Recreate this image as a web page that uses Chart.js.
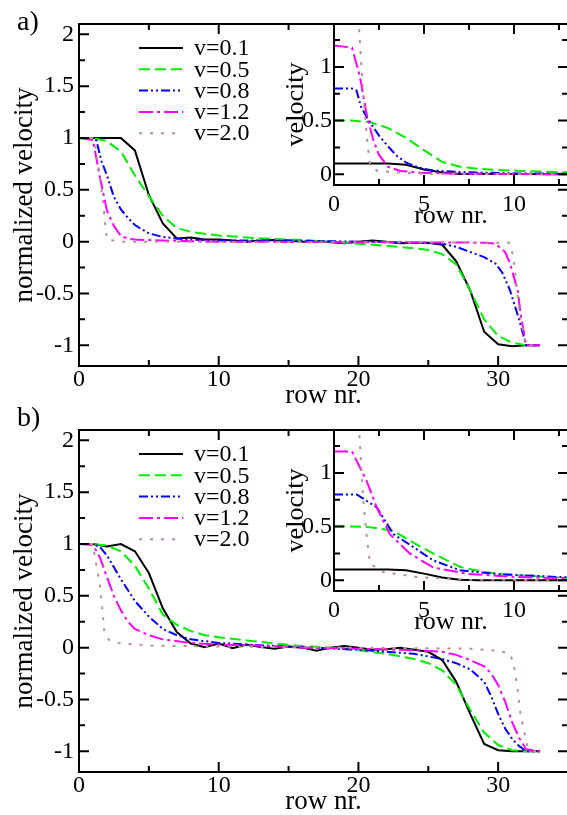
<!DOCTYPE html>
<html>
<head>
<meta charset="utf-8">
<script src="https://cdn.jsdelivr.net/npm/chart.js@4.4.1/dist/chart.umd.min.js"></script>
<style>
  html, body { margin: 0; padding: 0; background: #fff; }
  body { width: 567px; height: 815px; overflow: hidden; position: relative; }
  canvas { position: absolute; }
</style>
</head>
<body>
<canvas id="mainA" width="580" height="415" style="left:0;top:0"></canvas>
<canvas id="mainB" width="580" height="415" style="left:0;top:406px"></canvas>
<canvas id="insetA" width="300" height="230" style="left:280px;top:0"></canvas>
<canvas id="insetB" width="300" height="230" style="left:280px;top:406px"></canvas>
<script>
// series labels and styles
var seriesLabels = ['v=0.1', 'v=0.5', 'v=0.8', 'v=1.2', 'v=2.0'];
var seriesColors = ['#000000', '#00f000', '#0000ff', '#ff00ff', '#bc8f8f'];
var seriesDash = [[], [11, 5], [9, 3, 2, 3, 2, 3], [14, 4, 3, 4], [3, 8]];

// ticks
var mainXMajor = [0, 10, 20, 30];
var mainXMinor = [5, 15, 25, 35];
var mainYMajor = [-1, -0.5, 0, 0.5, 1, 1.5, 2];
var mainYMinor = [-0.75, -0.25, 0.25, 0.75, 1.25, 1.75];
var insetXMajor = [0, 5, 10];
var insetXMinor = [2.5, 7.5, 12.5];
var insetYMajor = [0, 0.5, 1];
var insetYMinor = [0.25, 0.75, 1.25];

// panel a) normalized velocity vs row nr.
var aMain01 = [[0,1],[1,1],[2,1],[3,1],[4,0.88],[5,0.45],[6,0.175],[7,0.03],[8,0.04],[9,0.02],[10,0.02],[11,0.01],[12,0],[13,0.01],[14,0.015],[15,0.01],[16,0],[17,0.005],[18,-0.005],[19,-0.015],[20,0],[21,0.01],[22,0],[23,-0.015],[24,-0.01],[25,-0.01],[26,-0.03],[27,-0.19],[28,-0.47],[29,-0.87],[30,-0.99],[31,-1.01],[32,-1],[33,-1]];
var aMain05 = [[0,1],[1,1],[2,0.97],[3,0.87],[4,0.64],[5,0.44],[6,0.25],[7,0.13],[8,0.095],[9,0.075],[10,0.06],[12,0.04],[14,0.025],[16,0.015],[18,0],[20,-0.02],[22,-0.04],[24,-0.065],[25,-0.08],[26,-0.12],[27,-0.22],[28,-0.47],[29,-0.75],[30,-0.91],[31,-0.975],[32,-1],[33,-1]];
var aMain08 = [[0,1],[1,1],[1.25,0.975],[1.6,0.78],[2,0.64],[2.5,0.43],[3,0.31],[3.5,0.23],[4,0.16],[5,0.08],[6,0.045],[7,0.03],[8,0.02],[10,0.01],[15,0.01],[20,0],[24,-0.01],[26,-0.02],[27,-0.05],[28,-0.1],[29,-0.15],[29.8,-0.21],[30.3,-0.3],[30.85,-0.47],[31.5,-0.75],[31.9,-0.95],[32,-1],[33,-1]];
var aMain12 = [[0,1],[1,0.98],[1.5,0.62],[2,0.3],[2.5,0.15],[3,0.055],[3.5,0.03],[4,0.02],[6,0.01],[10,0],[29,-0.01],[29.8,-0.02],[30.5,-0.1],[30.85,-0.21],[31.4,-0.47],[31.6,-0.69],[32,-1],[33,-1]];
var aMain20 = [[0,1],[1,1],[1.2,0.9],[1.5,0.6],[1.7,0.42],[1.85,0.2],[2,0.02],[2.5,0.01],[3,0],[30.8,-0.01],[31.1,-0.15],[31.35,-0.47],[31.6,-0.75],[32,-1],[33,-1]];

// panel a) inset: velocity vs row nr.
var aInset01 = [[0,0.1],[1,0.1],[2,0.1],[3,0.1],[4,0.088],[5,0.045],[6,0.0175],[7,0.003],[8,0.004],[9,0.002],[10,0.002],[13,0]];
var aInset05 = [[0,0.5],[1,0.5],[2,0.485],[2.5,0.46],[3,0.43],[4,0.34],[5,0.225],[6,0.115],[7,0.07],[8,0.05],[9,0.042],[10,0.033],[12,0.022],[13,0.018]];
var aInset08 = [[0,0.8],[1,0.8],[1.25,0.78],[1.5,0.63],[1.9,0.51],[2.5,0.36],[3,0.26],[3.5,0.17],[4,0.11],[4.5,0.075],[5,0.05],[5.5,0.035],[6,0.03],[7,0.02],[10,0.008],[13,0.005]];
var aInset12 = [[0,1.2],[1,1.18],[1.44,0.91],[1.8,0.57],[2.18,0.32],[2.5,0.18],[3,0.07],[3.7,0.03],[4.8,0.015],[7,0.005],[13,0]];
var aInset20 = [[0,2],[1,2],[1.3,1.6],[1.45,1.2],[1.6,0.8],[1.75,0.5],[1.85,0.3],[2,0.1],[2.4,0.03],[3.7,0.015],[5,0.005],[13,0]];

// panel b) normalized velocity vs row nr.
var bMain01 = [[0,1],[1,1],[2,0.975],[3,1],[4,0.93],[5,0.72],[6,0.38],[7,0.15],[8,0.04],[9,0.005],[10,0.04],[11,-0.005],[12,0.03],[13,0.005],[14,-0.01],[15,0.01],[16,0],[17,-0.03],[18,0],[19,0.015],[20,0],[21,-0.02],[22,-0.015],[23,0],[24,-0.02],[25,-0.04],[26,-0.12],[27,-0.33],[28,-0.64],[29,-0.93],[30,-0.99],[31,-1],[32,-1],[33,-1]];
var bMain05 = [[0,1],[1,1],[2,0.985],[3,0.93],[4,0.79],[5,0.57],[6,0.32],[7,0.22],[8,0.16],[9,0.12],[10,0.1],[12,0.07],[14,0.04],[16,0.015],[18,0],[20,-0.025],[22,-0.06],[24,-0.11],[25,-0.15],[26,-0.22],[27,-0.36],[28,-0.6],[29,-0.82],[30,-0.94],[31,-0.99],[32,-1],[33,-1]];
var bMain08 = [[0,1],[1,1],[1.5,0.97],[2,0.89],[3,0.66],[4,0.45],[5,0.3],[6,0.18],[7,0.12],[8,0.08],[10,0.045],[12,0.03],[15,0.01],[20,-0.02],[24,-0.06],[26,-0.11],[27,-0.15],[28,-0.21],[29,-0.33],[29.5,-0.47],[30,-0.64],[30.5,-0.78],[31,-0.88],[31.5,-0.95],[32,-1],[33,-1]];
var bMain12 = [[0,1],[1,0.99],[1.5,0.87],[2,0.68],[2.5,0.5],[3,0.36],[3.5,0.25],[4,0.18],[5,0.12],[6,0.08],[8,0.045],[10,0.03],[12,0.025],[16,0],[20,-0.01],[24,-0.025],[26,-0.04],[27,-0.07],[28,-0.12],[29,-0.18],[29.5,-0.25],[30,-0.36],[30.5,-0.52],[31,-0.72],[31.5,-0.87],[32,-0.98],[33,-1]];
var bMain20 = [[0,1],[1,1],[1.15,0.87],[1.5,0.6],[1.65,0.4],[1.8,0.17],[2,0.1],[2.2,0.07],[3,0.04],[5,0.02],[10,0.01],[20,0],[28,-0.01],[30,-0.03],[30.85,-0.06],[31.1,-0.155],[31.35,-0.35],[31.6,-0.64],[31.9,-0.83],[32.1,-0.96],[32.5,-1],[33,-1]];

// panel b) inset: velocity vs row nr.
var bInset01 = [[0,0.1],[1,0.1],[2,0.1],[3,0.1],[4,0.093],[5,0.062],[6,0.025],[7,0.005],[8,0],[13,0]];
var bInset05 = [[0,0.5],[1,0.5],[2,0.495],[3.3,0.46],[4.2,0.37],[5.5,0.25],[7,0.125],[8.3,0.077],[10.15,0.046],[12.55,0.025],[13,0.023]];
var bInset08 = [[0,0.8],[1.26,0.8],[2.37,0.68],[3.3,0.43],[4.4,0.31],[5.5,0.186],[7,0.093],[9.2,0.056],[12.55,0.03],[13,0.028]];
var bInset12 = [[0,1.2],[1,1.2],[1.8,0.93],[2.37,0.68],[3.1,0.43],[4.2,0.25],[5.5,0.12],[7.4,0.06],[10.15,0.03],[12.55,0.02],[13,0.02]];
var bInset20 = [[0,2],[1,2],[1.3,1.6],[1.39,1.4],[1.63,0.74],[1.8,0.43],[2,0.155],[2.74,0.077],[4.6,0.03],[7.4,0.006],[13,0]];

var FONT = '"Liberation Serif", "Times New Roman", serif';

// white box, frame and inward ticks on all four sides
var framePlugin = {
  id: 'frame',
  beforeDraw: function(chart, args, o) {
    if (!o.fill) return;
    var a = chart.chartArea, ctx = chart.ctx;
    ctx.save();
    ctx.fillStyle = '#fff';
    ctx.fillRect(a.left, a.top, a.right - a.left, a.bottom - a.top);
    ctx.restore();
  },
  afterDatasetsDraw: function(chart, args, o) {
    var a = chart.chartArea, ctx = chart.ctx;
    var xs = chart.scales.x, ys = chart.scales.y;
    ctx.save();
    ctx.strokeStyle = '#000';
    ctx.lineWidth = 2;
    ctx.strokeRect(a.left, a.top, a.right - a.left, a.bottom - a.top);
    ctx.beginPath();
    function xt(list, len) {
      list.forEach(function(v) {
        var p = xs.getPixelForValue(v);
        ctx.moveTo(p, a.bottom); ctx.lineTo(p, a.bottom - len);
        ctx.moveTo(p, a.top); ctx.lineTo(p, a.top + len);
      });
    }
    function yt(list, len) {
      list.forEach(function(v) {
        var p = ys.getPixelForValue(v);
        ctx.moveTo(a.left, p); ctx.lineTo(a.left + len, p);
        ctx.moveTo(a.right, p); ctx.lineTo(a.right - len, p);
      });
    }
    xt(o.xMajor, 10); xt(o.xMinor, 6);
    yt(o.yMajor, 10); yt(o.yMinor, 6);
    ctx.stroke();
    ctx.restore();
  }
};

// legend inside plot, and panel letter
var keyPlugin = {
  id: 'key',
  afterDraw: function(chart, args, o) {
    if (!o.show) return;
    var ctx = chart.ctx;
    ctx.save();
    chart.data.datasets.forEach(function(ds, i) {
      var y = o.y + i * o.dy;
      ctx.strokeStyle = ds.borderColor;
      ctx.lineWidth = ds.borderWidth;
      ctx.setLineDash(ds.borderDash);
      ctx.beginPath();
      ctx.moveTo(o.x0, y);
      ctx.lineTo(o.x1, y);
      ctx.stroke();
      ctx.setLineDash([]);
      ctx.fillStyle = '#000';
      ctx.font = '24px ' + FONT;
      ctx.textBaseline = 'middle';
      ctx.fillText(ds.label, o.tx, y + 1);
    });
    ctx.font = '28px ' + FONT;
    ctx.textBaseline = 'alphabetic';
    ctx.fillText(o.panel, o.px, o.py);
    ctx.restore();
  }
};

function buildDatasets(list) {
  return list.map(function(pts, i) {
    return {
      label: seriesLabels[i],
      data: pts.map(function(p) { return {x: p[0], y: p[1]}; }),
      borderColor: seriesColors[i],
      borderDash: seriesDash[i],
      borderWidth: 2,
      pointRadius: 0,
      fill: false,
      tension: 0,
      order: list.length - i
    };
  });
}

function makeChart(id, list, cfg) {
  return new Chart(document.getElementById(id), {
    type: 'line',
    data: { datasets: buildDatasets(list) },
    plugins: [framePlugin, keyPlugin],
    options: {
      responsive: false,
      animation: false,
      events: [],
      layout: { padding: { top: 24, right: 12, left: 0, bottom: 0 } },
      scales: {
        x: {
          type: 'linear', min: cfg.xMin, max: cfg.xMax,
          afterBuildTicks: function(s) { s.ticks = cfg.xMajor.map(function(v) { return {value: v}; }); },
          afterFit: function(s) { s.height = cfg.xH; },
          grid: { display: false, drawTicks: false },
          border: { display: false },
          ticks: { color: '#000', font: { family: FONT, size: 24, lineHeight: 1 }, padding: cfg.xPad, maxRotation: 0, autoSkip: false,
                   callback: function(v) { return String(v); } },
          title: { display: true, text: 'row nr.', color: '#000', font: { family: FONT, size: cfg.titleSize, lineHeight: 1 },
                   padding: { top: 0, bottom: cfg.xTitlePad } }
        },
        y: {
          type: 'linear', min: cfg.yMin, max: cfg.yMax,
          afterBuildTicks: function(s) { s.ticks = cfg.yMajor.map(function(v) { return {value: v}; }); },
          afterFit: function(s) { s.width = cfg.yW; },
          grid: { display: false, drawTicks: false },
          border: { display: false },
          ticks: { color: '#000', font: { family: FONT, size: 24, lineHeight: 1 }, padding: cfg.yPad, autoSkip: false,
                   callback: function(v) { return String(v); } },
          title: { display: true, text: cfg.yTitle, color: '#000', font: { family: FONT, size: cfg.titleSize, lineHeight: 1 },
                   padding: { top: cfg.yTitlePad, bottom: 0 } }
        }
      },
      plugins: {
        legend: { display: false },
        tooltip: { enabled: false },
        frame: { fill: cfg.fill, xMajor: cfg.xMajor, xMinor: cfg.xMinor, yMajor: cfg.yMajor, yMinor: cfg.yMinor },
        key: cfg.key
      }
    }
  });
}

var mainCfg = function(panel, py) {
  return {
    xMin: 0, xMax: 35, yMin: -1.2, yMax: 2.1,
    xMajor: mainXMajor, xMinor: mainXMinor, yMajor: mainYMajor, yMinor: mainYMinor,
    xH: 49, yW: 79, xPad: 2, yPad: 5, xTitlePad: 6, yTitlePad: 11, titleSize: 27,
    yTitle: 'normalized velocity', fill: false,
    key: { show: true, x0: 139, x1: 183, tx: 194, y: 48, dy: 21.3, panel: panel, px: 17, py: py }
  };
};
var insetCfg = function() {
  return {
    xMin: 0, xMax: 13, yMin: -0.1, yMax: 1.4,
    xMajor: insetXMajor, xMinor: insetXMinor, yMajor: insetYMajor, yMinor: insetYMinor,
    xH: 45, yW: 54, xPad: 8, yPad: 2, xTitlePad: 1, yTitlePad: 3, titleSize: 26,
    yTitle: 'velocity', fill: true,
    key: { show: false }
  };
};

makeChart('mainA', [aMain01, aMain05, aMain08, aMain12, aMain20], mainCfg('a)', 30));
makeChart('mainB', [bMain01, bMain05, bMain08, bMain12, bMain20], mainCfg('b)', 20));
makeChart('insetA', [aInset01, aInset05, aInset08, aInset12, aInset20], insetCfg());
makeChart('insetB', [bInset01, bInset05, bInset08, bInset12, bInset20], insetCfg());
</script>
</body>
</html>
